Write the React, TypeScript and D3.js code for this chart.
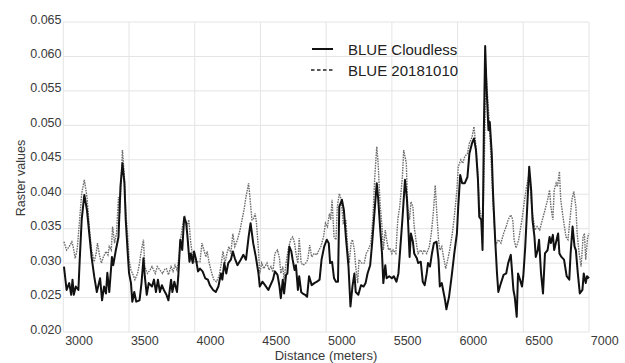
import React from "react";
import * as d3 from "d3";

// Distance (m) and raster values
const cloudlessDist = [2885,2905,2925,2940,2950,2960,2975,2995,3005,3020,3040,3060,3080,3095,3115,3135,3145,3160,3175,3190,3205,3215,3230,3250,3260,3280,3300,3315,3330,3345,3355,3370,3380,3395,3405,3420,3435,3460,3475,3490,3500,3515,3530,3555,3570,3585,3600,3615,3630,3645,3665,3680,3700,3710,3725,3745,3755,3770,3785,3800,3815,3825,3840,3850,3865,3875,3890,3905,3920,3940,3960,3980,3995,4020,4040,4060,4080,4090,4105,4120,4135,4155,4170,4185,4205,4230,4250,4270,4290,4305,4325,4345,4365,4375,4395,4415,4440,4475,4490,4510,4525,4535,4550,4560,4575,4585,4600,4615,4625,4640,4650,4665,4675,4690,4700,4720,4735,4750,4770,4790,4810,4830,4845,4865,4885,4900,4910,4925,4940,4955,4970,4980,5000,5015,5030,5050,5065,5080,5095,5105,5125,5145,5165,5180,5195,5215,5230,5245,5265,5275,5290,5305,5315,5330,5340,5360,5380,5395,5415,5430,5445,5460,5480,5495,5505,5515,5525,5540,5550,5570,5580,5600,5615,5630,5645,5655,5670,5685,5700,5720,5735,5745,5760,5770,5785,5795,5815,5835,5855,5875,5885,5900,5915,5935,5955,5970,5990,6005,6020,6035,6045,6060,6070,6080,6090,6100,6115,6125,6140,6150,6165,6180,6190,6210,6230,6250,6265,6285,6305,6315,6330,6340,6355,6370,6380,6395,6410,6425,6440,6450,6465,6475,6490,6500,6515,6530,6545,6565,6580,6590,6605,6615,6630,6645,6655,6670,6690,6710,6730,6740,6755,6770,6780,6795,6810,6830,6840,6855,6865,6880];
const cloudlessVal = [0.0295,0.0261,0.0271,0.0254,0.0276,0.0254,0.0266,0.0261,0.0305,0.0363,0.0399,0.0377,0.0338,0.0309,0.0281,0.0258,0.0266,0.0278,0.0246,0.0266,0.0256,0.0286,0.0258,0.0309,0.0297,0.0319,0.0338,0.0411,0.0445,0.0416,0.0363,0.0315,0.0286,0.0271,0.0244,0.0258,0.0244,0.0246,0.0271,0.0307,0.0281,0.0254,0.0271,0.0266,0.0276,0.0258,0.0276,0.0258,0.0268,0.0261,0.0254,0.0246,0.0276,0.0258,0.0273,0.0258,0.0281,0.0334,0.0319,0.0367,0.0358,0.0338,0.0302,0.0314,0.0300,0.0317,0.0305,0.0288,0.0292,0.0288,0.0278,0.0276,0.0268,0.0261,0.0258,0.0266,0.0285,0.0276,0.0300,0.0285,0.0300,0.0305,0.0317,0.0307,0.0297,0.0305,0.0312,0.0305,0.0338,0.0358,0.0329,0.0309,0.0285,0.0266,0.0273,0.0268,0.0261,0.0276,0.0288,0.0283,0.0266,0.0249,0.0276,0.0256,0.0283,0.0285,0.0324,0.0317,0.0305,0.0290,0.0297,0.0261,0.0281,0.0258,0.0256,0.0254,0.0251,0.0281,0.0268,0.0271,0.0273,0.0276,0.0305,0.0324,0.0334,0.0329,0.0300,0.0302,0.0278,0.0273,0.0273,0.0382,0.0392,0.0377,0.0338,0.0295,0.0237,0.0266,0.0285,0.0258,0.0254,0.0268,0.0266,0.0271,0.0285,0.0297,0.0329,0.0367,0.0416,0.0396,0.0353,0.0314,0.0271,0.0297,0.0278,0.0281,0.0278,0.0281,0.0273,0.0285,0.0324,0.0363,0.0421,0.0392,0.0353,0.0309,0.0343,0.0331,0.0314,0.0307,0.0300,0.0302,0.0273,0.0268,0.0285,0.0300,0.0295,0.0314,0.0329,0.0331,0.0305,0.0266,0.0271,0.0261,0.0246,0.0233,0.0251,0.0281,0.0314,0.0343,0.0382,0.0428,0.0416,0.0416,0.0425,0.0459,0.0474,0.0481,0.0464,0.0421,0.0367,0.0363,0.0319,0.0493,0.0615,0.0556,0.0493,0.0505,0.0459,0.0401,0.0338,0.0285,0.0258,0.0271,0.0283,0.0285,0.0300,0.0312,0.0261,0.0251,0.0222,0.0285,0.0276,0.0266,0.0281,0.0324,0.0382,0.0440,0.0406,0.0363,0.0338,0.0309,0.0319,0.0334,0.0285,0.0256,0.0314,0.0319,0.0338,0.0329,0.0341,0.0319,0.0331,0.0343,0.0314,0.0309,0.0305,0.0281,0.0276,0.0314,0.0353,0.0324,0.0319,0.0285,0.0256,0.0261,0.0285,0.0271,0.0281,0.0278];

const dateDist = [2885,2905,2925,2945,2955,2970,2985,3000,3020,3040,3060,3080,3095,3115,3130,3140,3155,3170,3185,3205,3220,3230,3245,3255,3270,3285,3300,3310,3330,3345,3355,3370,3380,3395,3415,3425,3445,3460,3470,3490,3500,3520,3540,3555,3580,3595,3615,3635,3655,3665,3680,3700,3715,3730,3745,3760,3775,3795,3805,3820,3835,3850,3865,3880,3900,3920,3935,3950,3965,3975,3990,4010,4025,4045,4065,4080,4095,4110,4125,4140,4155,4170,4185,4205,4225,4240,4255,4270,4290,4300,4315,4325,4340,4350,4365,4375,4390,4405,4430,4445,4460,4475,4490,4510,4525,4535,4550,4560,4575,4590,4610,4625,4640,4650,4665,4675,4690,4705,4725,4740,4755,4770,4790,4810,4825,4840,4860,4875,4890,4905,4915,4925,4940,4955,4965,4980,4995,5010,5030,5045,5055,5070,5080,5095,5105,5120,5130,5150,5170,5185,5200,5220,5235,5250,5265,5275,5290,5305,5315,5330,5340,5355,5365,5380,5390,5410,5425,5440,5460,5470,5490,5500,5515,5525,5540,5550,5570,5580,5600,5615,5625,5645,5665,5680,5695,5710,5725,5735,5745,5760,5770,5790,5805,5820,5840,5855,5875,5885,5905,5920,5935,5955,5970,5990,6005,6020,6035,6045,6060,6070,6085,6095,6110,6120,6135,6150,6170,6190,6210,6230,6250,6265,6285,6300,6310,6325,6345,6370,6390,6405,6425,6440,6450,6470,6485,6505,6525,6545,6565,6580,6590,6605,6615,6630,6640,6655,6665,6685,6705,6720,6735,6750,6765,6780,6790,6805,6820,6835,6845,6855,6870,6880];
const dateVal = [0.0331,0.0319,0.0324,0.0331,0.0324,0.0307,0.0319,0.0353,0.0401,0.0421,0.0396,0.0348,0.0319,0.0302,0.0314,0.0329,0.0312,0.0300,0.0309,0.0317,0.0312,0.0324,0.0319,0.0353,0.0329,0.0343,0.0396,0.0372,0.0464,0.0425,0.0377,0.0338,0.0305,0.0290,0.0281,0.0276,0.0285,0.0300,0.0314,0.0334,0.0295,0.0285,0.0290,0.0295,0.0285,0.0295,0.0290,0.0285,0.0292,0.0292,0.0283,0.0295,0.0288,0.0297,0.0290,0.0309,0.0338,0.0363,0.0367,0.0353,0.0363,0.0329,0.0309,0.0302,0.0302,0.0302,0.0329,0.0319,0.0309,0.0317,0.0300,0.0285,0.0276,0.0273,0.0281,0.0297,0.0317,0.0300,0.0314,0.0324,0.0314,0.0343,0.0324,0.0334,0.0348,0.0363,0.0377,0.0396,0.0416,0.0396,0.0363,0.0363,0.0372,0.0358,0.0319,0.0285,0.0300,0.0292,0.0300,0.0290,0.0295,0.0287,0.0314,0.0319,0.0307,0.0285,0.0295,0.0276,0.0300,0.0319,0.0334,0.0338,0.0329,0.0314,0.0300,0.0336,0.0300,0.0297,0.0300,0.0305,0.0326,0.0309,0.0314,0.0312,0.0319,0.0324,0.0338,0.0358,0.0353,0.0372,0.0363,0.0392,0.0338,0.0334,0.0382,0.0401,0.0392,0.0358,0.0363,0.0319,0.0300,0.0329,0.0334,0.0319,0.0295,0.0271,0.0305,0.0300,0.0300,0.0314,0.0319,0.0329,0.0363,0.0425,0.0469,0.0447,0.0387,0.0353,0.0319,0.0348,0.0334,0.0319,0.0322,0.0314,0.0319,0.0314,0.0363,0.0382,0.0425,0.0464,0.0445,0.0382,0.0363,0.0389,0.0382,0.0353,0.0324,0.0314,0.0319,0.0314,0.0319,0.0314,0.0324,0.0343,0.0372,0.0413,0.0363,0.0334,0.0319,0.0324,0.0312,0.0292,0.0305,0.0319,0.0343,0.0367,0.0406,0.0440,0.0450,0.0445,0.0455,0.0459,0.0474,0.0483,0.0498,0.0469,0.0430,0.0382,0.0367,0.0329,0.0464,0.0583,0.0537,0.0508,0.0450,0.0384,0.0326,0.0334,0.0329,0.0343,0.0353,0.0363,0.0370,0.0363,0.0334,0.0322,0.0334,0.0363,0.0392,0.0411,0.0430,0.0392,0.0372,0.0348,0.0353,0.0348,0.0363,0.0377,0.0392,0.0406,0.0382,0.0363,0.0406,0.0416,0.0411,0.0433,0.0392,0.0363,0.0338,0.0334,0.0363,0.0392,0.0404,0.0382,0.0343,0.0314,0.0295,0.0338,0.0343,0.0305,0.0338,0.0343];

const yTicks = [0.02, 0.025, 0.03, 0.035, 0.04, 0.045, 0.05, 0.055, 0.06, 0.065];
const xTickLabels = [3000, 3500, 4000, 4500, 5000, 5500, 6000, 6500, 7000];
const seriesNames = ["BLUE Cloudless", "BLUE 20181010"];

const W = 625;
const H = 363;
const FONT = "'Liberation Sans', Arial, sans-serif";

export default function App() {
  const x = d3.scaleLinear().domain([2880, 6880]).range([63.3, 589]);
  const y = d3.scaleLinear().domain([0.02, 0.065]).range([332, 22]);
  const gridX = d3.range(2880, 6881, 500);

  const line = d3
    .line<[number, number]>()
    .x((d) => x(d[0]))
    .y((d) => y(d[1]));

  const cloudless = cloudlessDist.map((d, i) => [d, cloudlessVal[i]] as [number, number]);
  const dated = dateDist.map((d, i) => [d, dateVal[i]] as [number, number]);

  return (
    <svg
      width={W}
      height={H}
      style={{ position: "absolute", left: 0, top: 0, background: "#fff" }}
      fontFamily={FONT}
    >
      <rect x={0} y={0} width={W} height={H} fill="#fff" />
      {/* grid */}
      {yTicks.map((t) => (
        <line key={"gy" + t} x1={x(2880)} x2={x(6880)} y1={y(t)} y2={y(t)} stroke="#e4e4e4" strokeWidth={1} />
      ))}
      {gridX.map((g) => (
        <line key={"gx" + g} x1={x(g)} x2={x(g)} y1={y(0.065)} y2={y(0.02)} stroke="#e4e4e4" strokeWidth={1} />
      ))}
      {/* y tick labels */}
      {yTicks.map((t) => (
        <text key={"ty" + t} x={61.5} y={y(t) + 1.5} textAnchor="end" fontSize={12.5} fill="#3a3a3a">
          {t.toFixed(3)}
        </text>
      ))}
      {/* x tick labels */}
      {xTickLabels.map((t) => (
        <text key={"tx" + t} x={x(t)} y={344.5} textAnchor="middle" fontSize={12.5} fill="#3a3a3a">
          {t}
        </text>
      ))}
      <text x={326} y={359.5} textAnchor="middle" fontSize={13} fill="#3a3a3a">
        Distance (meters)
      </text>
      <text
        transform={`translate(24.5,178) rotate(-90)`}
        textAnchor="middle"
        fontSize={12.5}
        fill="#3a3a3a"
      >
        Raster values
      </text>
      {/* series */}
      <path d={line(dated) || ""} fill="none" stroke="#6e6e6e" strokeWidth={1.4} strokeDasharray="1.6 1" />
      <path d={line(cloudless) || ""} fill="none" stroke="#111" strokeWidth={2} strokeLinejoin="round" />
      {/* legend */}
      <line x1={312} x2={333} y1={49} y2={49} stroke="#111" strokeWidth={2} />
      <text x={348} y={54.5} fontSize={15} fill="#222">
        {seriesNames[0]}
      </text>
      <line x1={311} x2={334} y1={70} y2={70} stroke="#222" strokeWidth={1.5} strokeDasharray="3.5 2.5" />
      <text x={348} y={75.5} fontSize={15} fill="#222">
        {seriesNames[1]}
      </text>
    </svg>
  );
}
